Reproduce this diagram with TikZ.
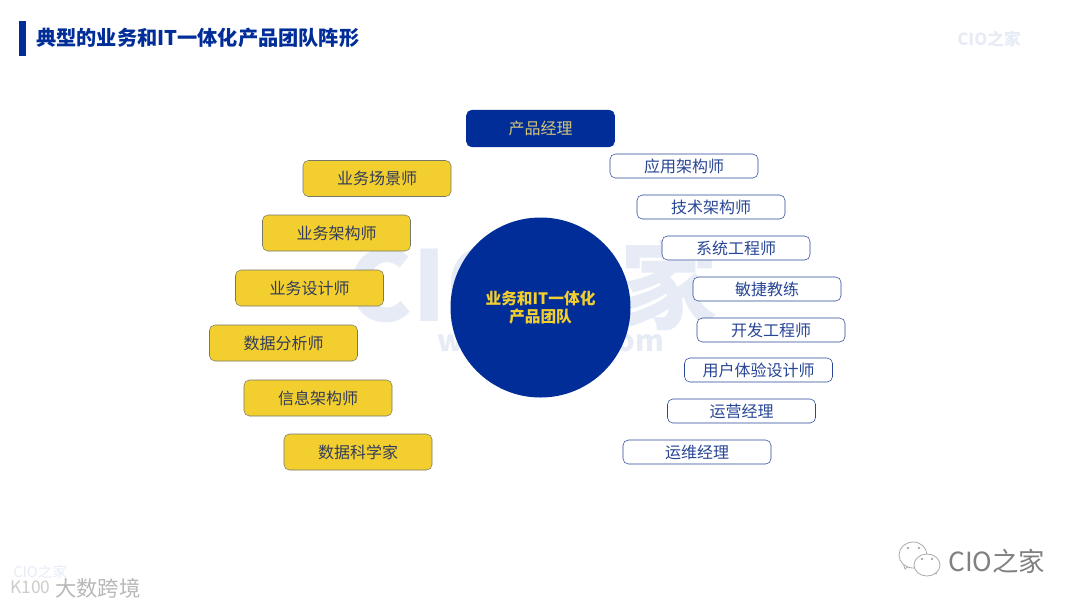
\documentclass[tikz,border=0pt]{standalone}
\usepackage{fontspec}
\setmainfont{Noto Sans CJK SC}
\usepackage{xcolor}
\definecolor{deepBlue}{RGB}{0, 45, 152}
\definecolor{boxYellow}{RGB}{242, 206, 47}
\definecolor{boxGrey}{RGB}{120, 120, 105}
\definecolor{inkBlue}{RGB}{40, 70, 150}
\definecolor{inkDark}{RGB}{50, 60, 90}
\definecolor{paleMark}{RGB}{230, 235, 245}
\definecolor{softTan}{RGB}{214, 198, 120}
\definecolor{greyMark}{RGB}{170, 170, 170}
\tikzset{
    rolebox/.style={rounded corners=4pt, minimum width=111pt, inner sep=0pt, font=\fontsize{12pt}{14pt}\selectfont},
    bizbox/.style={rolebox, draw=boxGrey, fill=boxYellow, text=inkDark, minimum height=27pt},
    techbox/.style={rolebox, draw=inkBlue, fill=white, text=inkBlue, minimum height=18pt},
    leadbox/.style={rolebox, draw=deepBlue, fill=deepBlue, text=softTan, minimum height=27.5pt},
    chatbubble/.style={draw=greyMark, fill=white, line width=0.6pt},
}
\begin{document}
\begin{tikzpicture}[x=0.75pt,y=-0.75pt]
    \useasboundingbox (0,0) rectangle (1080,608);
    % watermarks behind everything
    \node[text=paleMark, font=\fontsize{73pt}{75pt}\selectfont\bfseries] (markbig) at (533,284) {CIO之家};
    \node[text=paleMark, font=\fontsize{22pt}{24pt}\selectfont\bfseries] (markweb) at (551,343) {www.ciozj.com};
    \node[text=paleMark, font=\fontsize{12.5pt}{14pt}\selectfont\bfseries] (marktop) at (989,39) {CIO之家};
    % title
    \fill[deepBlue] (19,21) rectangle (26,56);
    \node[anchor=west, inner sep=0pt, text=deepBlue, font=\fontsize{15.15pt}{17pt}\selectfont\bfseries] (title) at (36,38) {典型的业务和IT一体化产品团队阵形};
    % centre
    \node[circle, fill=deepBlue, minimum size=135pt, inner sep=0pt, align=center, text=boxYellow, font=\fontsize{11.8pt}{13.5pt}\selectfont\bfseries] (team) at (540.5,307.5) {业务和IT一体化\\产品团队};
    % top
    \node[leadbox] (pm) at (540.5,128.5) {产品经理};
    % left column
    \node[bizbox] (bizscene) at (377,178.5) {业务场景师};
    \node[bizbox] (bizarch) at (336.5,233) {业务架构师};
    \node[bizbox] (bizdesign) at (309.5,288) {业务设计师};
    \node[bizbox] (dataana) at (283.5,343) {数据分析师};
    \node[bizbox] (infoarch) at (318,398) {信息架构师};
    \node[bizbox] (datasci) at (358,452) {数据科学家};
    % right column
    \node[techbox] (apparch) at (684,166) {应用架构师};
    \node[techbox] (techarch) at (711,207) {技术架构师};
    \node[techbox] (syseng) at (736,248) {系统工程师};
    \node[techbox] (coach) at (767,289) {敏捷教练};
    \node[techbox] (dev) at (771,330) {开发工程师};
    \node[techbox] (ux) at (758.5,370) {用户体验设计师};
    \node[techbox] (ops) at (741.5,411) {运营经理};
    \node[techbox] (maint) at (697,452) {运维经理};
    % signature, bottom right
    \draw[chatbubble] (905,569) -- (913,562) -- (903,563) -- cycle;
    \draw[chatbubble] (913,555) ellipse (14 and 13);
    \draw[chatbubble] (936,574) -- (928,568) -- (938,568) -- cycle;
    \draw[chatbubble] (927,565) ellipse (13 and 11);
    \foreach \eyex/\eyey in {908/548, 919/548, 922/559, 932/559}
        \fill[greyMark] (\eyex,\eyey) circle (1.3);
    \node[anchor=west, inner sep=0pt, text=black!50, font=\fontsize{19.8pt}{22pt}\selectfont] (signature) at (948,561) {CIO之家};
    % signature, bottom left
    \node[anchor=west, inner sep=0pt, text=paleMark, font=\fontsize{11pt}{13pt}\selectfont] (markfoot) at (13,572) {CIO之家};
    \node[anchor=west, inner sep=0pt, text=black!20, font=\fontsize{13pt}{15pt}\selectfont] (logofoot) at (10,587) {K100};
    \node[anchor=west, inner sep=0pt, text=black!28, font=\fontsize{16pt}{18pt}\selectfont] (sitefoot) at (55,588) {大数跨境};
\end{tikzpicture}
\end{document}
